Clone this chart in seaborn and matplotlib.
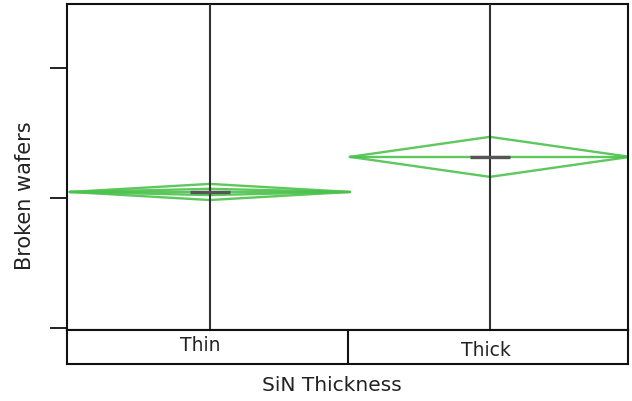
import numpy as np
import pandas as pd
import seaborn as sns
import matplotlib
matplotlib.use("Agg")
import matplotlib.pyplot as plt

# Means diamonds (y units: ticks at 0, 5, 10)
groups = ["Thin", "Thick"]
group_pos = [0, 1]
means = [5.23, 6.58]
ci_half = [0.31, 0.77]
overlap_half = [0.12, 0.0]
y_ticks = [0, 5, 10]

sns.set_theme(style="white")
plt.rcParams['font.family'] = ['DejaVu Sans']

green = "#4cc24c"

# Build line segments for the diamonds
rows = []
seg = 0
for pos, m, h, o in zip(group_pos, means, ci_half, overlap_half):
    pts = [(pos - 0.5, m), (pos, m + h), (pos + 0.5, m), (pos, m - h), (pos - 0.5, m)]
    for x, y in pts:
        rows.append({"x": x, "y": y, "seg": seg})
    seg += 1
    for x, y in [(pos - 0.5, m), (pos + 0.5, m)]:
        rows.append({"x": x, "y": y, "seg": seg})
    seg += 1
    if o > 0:
        pts = [(pos - 0.5, m), (pos, m + o), (pos + 0.5, m), (pos, m - o), (pos - 0.5, m)]
        for x, y in pts:
            rows.append({"x": x, "y": y, "seg": seg})
        seg += 1
df_lines = pd.DataFrame(rows)

xlim = (-0.51, 1.493)

fig = plt.figure(figsize=(6.32, 4.02), dpi=100)
ax = fig.add_axes([67 / 632, 1 - 331 / 402, 561 / 632, 326 / 402])
box = fig.add_axes([67 / 632, 1 - 365 / 402, 561 / 632, 34 / 402])

sns.lineplot(data=df_lines, x="x", y="y", units="seg", estimator=None, sort=False,
             color=green, lw=1.7, alpha=0.9, ax=ax, legend=False)

# vertical group lines and mean bars
for pos, m in zip(group_pos, means):
    ax.axvline(pos, color="#333333", lw=1.5, zorder=3)
    ax.plot([pos - 0.072, pos + 0.072], [m, m], color="#555555", lw=2.4, zorder=4,
            solid_capstyle="butt")

ax.set_xlim(*xlim)
ax.set_ylim(-0.08, 12.46)
ax.set_yticks(y_ticks)
ax.set_yticklabels([])
ax.set_xticks([])
ax.set_xlabel("")
ax.set_ylabel("")
ax.tick_params(axis="y", direction="out", length=12, width=1.3, color="#111111", left=True)
for s in ax.spines.values():
    s.set_color("#111111")
    s.set_linewidth(1.5)

# category label box
box.set_xlim(*xlim)
box.set_ylim(0, 1)
box.set_xticks([])
box.set_yticks([])
box.axvline(0.495, color="#111111", lw=1.5)
for s in box.spines.values():
    s.set_color("#111111")
    s.set_linewidth(1.5)
box.text(-0.035, 0.56, groups[0], ha="center", va="center", fontsize=13.5, color="#222222")
box.text(0.985, 0.42, groups[1], ha="center", va="center", fontsize=13.5, color="#222222")

fig.text(332 / 632, 1 - 386 / 402, "SiN Thickness", ha="center", va="center",
         fontsize=14.5, color="#222222")
fig.text(25 / 632, 1 - 196 / 402, "Broken wafers", ha="center", va="center",
         rotation=90, fontsize=15, color="#222222")

fig.savefig("out.png", dpi=100)
